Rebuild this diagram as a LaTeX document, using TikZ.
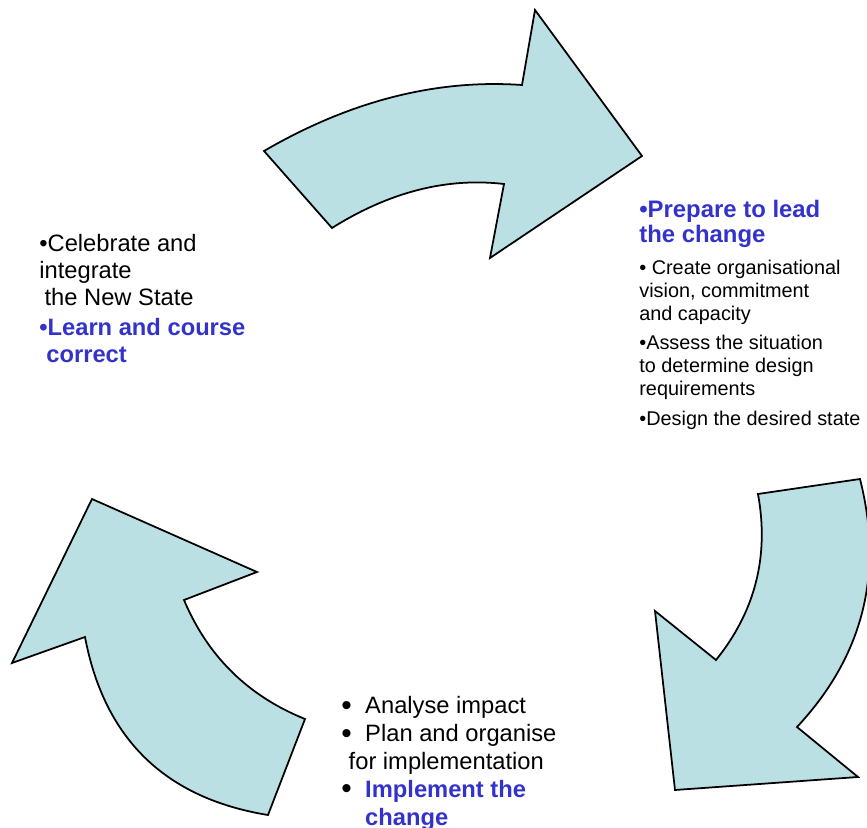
\documentclass[tikz,border=0pt]{standalone}
\usepackage{fontspec}
\setmainfont{Liberation Sans}
\usetikzlibrary{positioning}

\definecolor{arrowfill}{RGB}{187,224,227}
\definecolor{stepblue}{RGB}{51,51,204}

\tikzset{
  cyclearrow/.style={draw=black, fill=arrowfill, line width=1pt},
  bigtext/.style={anchor=north west, inner sep=0pt, align=left,
    font=\fontsize{13.5}{15.9}\selectfont},
  smalltext/.style={anchor=north west, inner sep=0pt, align=left,
    font=\fontsize{11.3}{13}\selectfont},
  headtext/.style={bigtext, text=stepblue, font=\bfseries\fontsize{13.6}{14.2}\selectfont}
}

\newcommand{\blt}{\makebox[13.6pt][l]{\raisebox{-0.9pt}{\fontsize{17}{17}\selectfont •}}}

\begin{document}
\begin{tikzpicture}[x=0.02cm, y=-0.02cm]

  \useasboundingbox (0,0) rectangle (867,828);

  % top arrow
  \draw [cyclearrow] (264,151) -- (332,228)
    .. controls (389.3,192) and (446.7,177.3) .. (504,184)
    -- (490,258) -- (642,156) -- (535,10) -- (522,85)
    .. controls (436,79) and (350,101) .. (264,151) -- cycle;

  % right arrow
  \draw [cyclearrow] (758,494) -- (860,479)
    .. controls (884,573.7) and (863,656.3) .. (797,727)
    -- (858,777) -- (675,790) -- (655,611) -- (716,660)
    .. controls (755.3,611.3) and (769.3,556) .. (758,494) -- cycle;

  % left arrow
  \draw [cyclearrow] (268,815) -- (305,719)
    .. controls (248,696) and (207.7,656.3) .. (184,600)
    -- (257,572) -- (92,499) -- (12,663) -- (85,637)
    .. controls (104.3,739) and (165.3,798.3) .. (268,815) -- cycle;

  \node (prepare) [headtext] at (639,200) {•Prepare to lead\\the change};
  \node (prepitems) [smalltext, below=6.6pt of prepare.south west, anchor=north west]
    {• Create organisational\\vision, commitment\\and capacity\\[4pt]
     •Assess the situation\\to determine design\\requirements\\[4pt]
     •Design the desired state};

  \node (celebrate) [bigtext, font=\fontsize{13.5}{15.3}\selectfont] at (39,234)
    {•Celebrate and\\integrate\\\hspace{3pt}the New State\\[2pt]
     {\color{stepblue}\bfseries •Learn and course}\\
     \hspace{4pt}{\color{stepblue}\bfseries correct}};

  \node (implement) [bigtext] at (341,696)
    {\blt Analyse impact\\\blt Plan and organise\\\hspace{4.2pt}for implementation\\
     \blt{\color{stepblue}\bfseries Implement the}\\
     \hspace{13.6pt}{\color{stepblue}\bfseries change}};

\end{tikzpicture}
\end{document}
